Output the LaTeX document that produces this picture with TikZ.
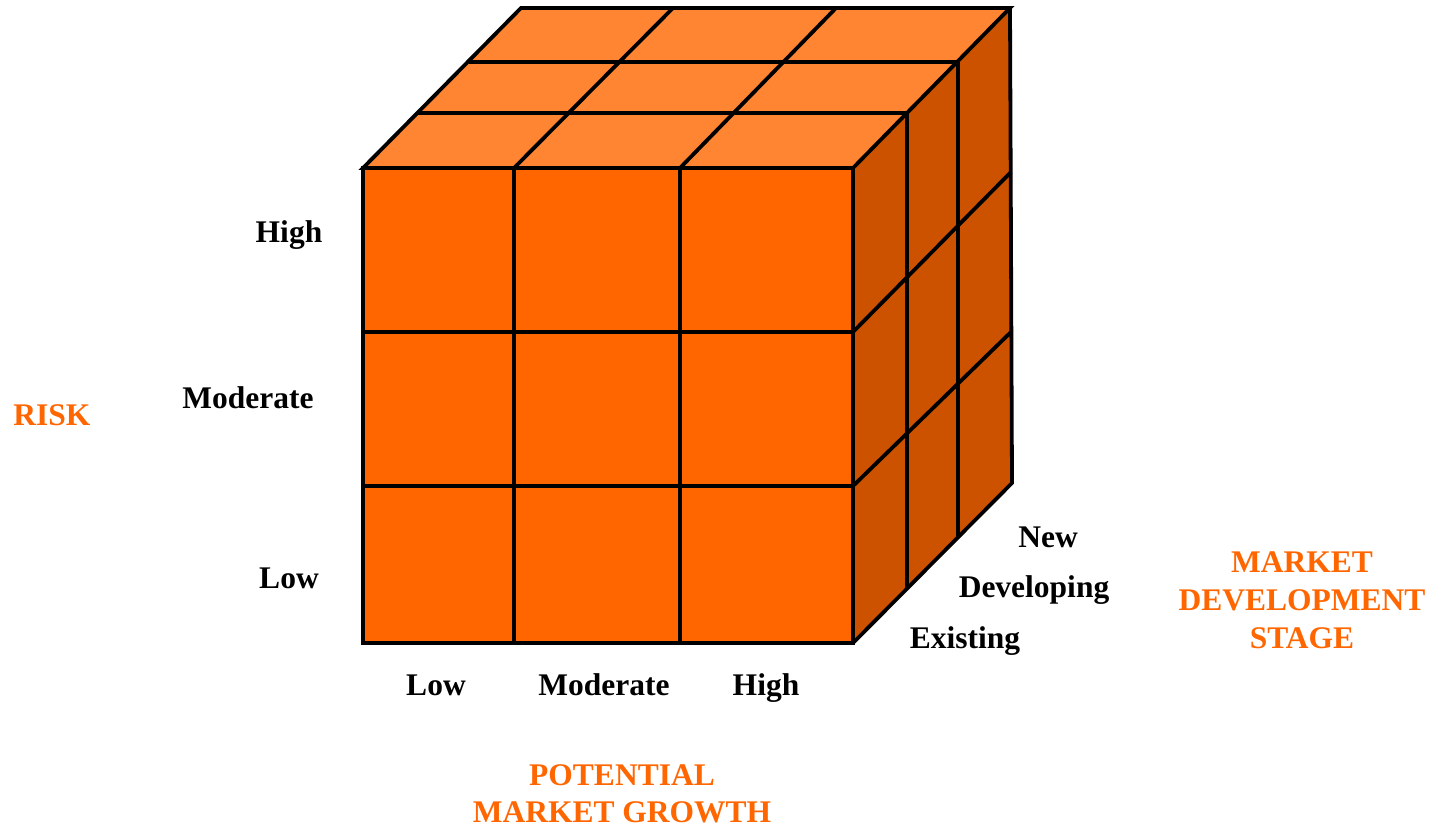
\documentclass[tikz,border=0pt]{standalone}
\usepackage{fontspec}
\setmainfont{Liberation Serif}
\definecolor{frontc}{HTML}{FF6600}
\definecolor{topc}{HTML}{FF8533}
\definecolor{sidec}{HTML}{CC5200}
\definecolor{labc}{HTML}{FF6600}
\begin{document}
\begin{tikzpicture}[x=1pt,y=-1pt,
  edge/.style={draw=black,line width=3.8pt},
  lab/.style={font=\fontsize{31.5}{37.5}\selectfont\bfseries,inner sep=0pt,anchor=base},
  axis/.style={lab,text=labc,align=center}]
\useasboundingbox (0,0) rectangle (1433,828);
% top face
\fill[topc] (363,168) -- (853,168) -- (1010,8) -- (521,8) -- cycle;
% right face
\fill[sidec] (853,168) -- (1010,8) -- (1012,483) -- (853,643) -- cycle;
% front face
\fill[frontc] (363,168) rectangle (853,643);
% top grid
\draw[edge] (418,113) -- (907,113);
\draw[edge] (469,62) -- (958,62);
\draw[edge] (514,168) -- (673,8);
\draw[edge] (680,168) -- (836,8);
% right grid
\draw[edge] (907,113) -- (907,588);
\draw[edge] (958,62) -- (958,536);
\draw[edge] (853,332) -- (1011,172);
\draw[edge] (853,486) -- (1011,332);
% front grid
\draw[edge] (514,168) -- (514,643);
\draw[edge] (680,168) -- (680,643);
\draw[edge] (363,332) -- (853,332);
\draw[edge] (363,486) -- (853,486);
% outlines
\draw[edge] (363,168) -- (521,8) -- (1010,8) -- (853,168) -- cycle;
\draw[edge] (1010,8) -- (1012,483) -- (853,643);
\draw[edge] (363,168) rectangle (853,643);
% risk labels
\node[lab] (rhigh) at (289,242) {High};
\node[lab] (rmod) at (248,408) {Moderate};
\node[lab] (rlow) at (289,588) {Low};
\node[axis] (risk) at (52,425) {RISK};
% growth labels
\node[lab] (glow) at (436,695) {Low};
\node[lab] (gmod) at (604,695) {Moderate};
\node[lab] (ghigh) at (766,695) {High};
\node[axis,font=\fontsize{31.5}{37}\selectfont\bfseries] (growth) at (622,822) {POTENTIAL\\MARKET GROWTH};
% stage labels
\node[lab] (snew) at (1048,547) {New};
\node[lab] (sdev) at (1034,597) {Developing};
\node[lab] (sexist) at (965,648) {Existing};
\node[axis,font=\fontsize{31.5}{38}\selectfont\bfseries] (stage) at (1302,648) {MARKET\\DEVELOPMENT\\STAGE};
\end{tikzpicture}
\end{document}
